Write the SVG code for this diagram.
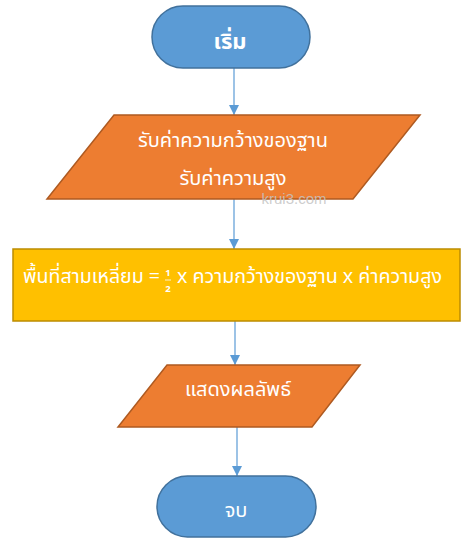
<svg xmlns="http://www.w3.org/2000/svg" width="474" height="544" viewBox="0 0 474 544">
<defs>
<style>
.term{fill:#5B9BD5;stroke:#41719C;stroke-width:1.5}
.io{fill:#ED7D31;stroke:#AE5A21;stroke-width:1.5}
.proc{fill:#FFC000;stroke:#BC8C00;stroke-width:1.5}
.t{fill:#FFFFFF;font-family:"Noto Sans Thai","Tahoma","Leelawadee UI","Noto Sans","DejaVu Sans",sans-serif;font-size:20px;text-anchor:middle}
.frac{font-size:9.5px;font-weight:bold}
.conn{stroke:#5B9BD5;stroke-width:1.2;fill:none}
</style>
<marker id="ah" viewBox="0 0 10 10" refX="10" refY="5" markerWidth="10" markerHeight="10" markerUnits="userSpaceOnUse" orient="auto">
<path d="M0,0 L10,5 L0,10 z" fill="#5B9BD5"/>
</marker>
</defs>
<rect width="474" height="544" fill="#FFFFFF"/>
<g id="connectors">
<line class="conn" x1="234" y1="68" x2="234" y2="115" marker-end="url(#ah)"/>
<line class="conn" x1="234" y1="199" x2="234" y2="249" marker-end="url(#ah)"/>
<line class="conn" x1="235" y1="321" x2="235" y2="365" marker-end="url(#ah)"/>
<line class="conn" x1="237" y1="427" x2="237" y2="476" marker-end="url(#ah)"/>
</g>
<g id="start">
<rect class="term" x="152" y="6" width="158" height="62" rx="31"/>
<text class="t" x="230" y="49" style="font-weight:bold;font-size:22px">เริ่ม</text>
</g>
<g id="input">
<polygon class="io" points="114,115 420,115 353,199 47,199"/>
<text class="t" x="233" y="147" textLength="190" lengthAdjust="spacingAndGlyphs">รับค่าความกว้างของฐาน</text>
<text class="t" x="233" y="185">รับค่าความสูง</text>
</g>
<text x="294" y="204" font-family="Liberation Sans, Arial, sans-serif" font-size="15" fill="#C4C4C4" fill-opacity="0.85" text-anchor="middle">krui3.com</text>
<g id="process">
<rect class="proc" x="13" y="249" width="447" height="72"/>
<text class="t" x="23" y="283" style="text-anchor:start" textLength="137" lengthAdjust="spacingAndGlyphs">พื้นที่สามเหลี่ยม =</text>
<text class="t frac" x="168" y="276">1</text>
<line x1="165" y1="280" x2="171" y2="280" stroke="#FFFFFF" stroke-width="0.8"/>
<text class="t frac" x="168" y="292">2</text>
<text class="t" x="177" y="283" style="text-anchor:start" textLength="265" lengthAdjust="spacingAndGlyphs">x ความกว้างของฐาน x ค่าความสูง</text>
</g>
<g id="output">
<polygon class="io" points="167,365 360,365 312,427 118,427"/>
<text class="t" x="238" y="396">แสดงผลลัพธ์</text>
</g>
<g id="end">
<rect class="term" x="157" y="476" width="159" height="61" rx="30.5"/>
<text class="t" x="236" y="517">จบ</text>
</g>
</svg>
